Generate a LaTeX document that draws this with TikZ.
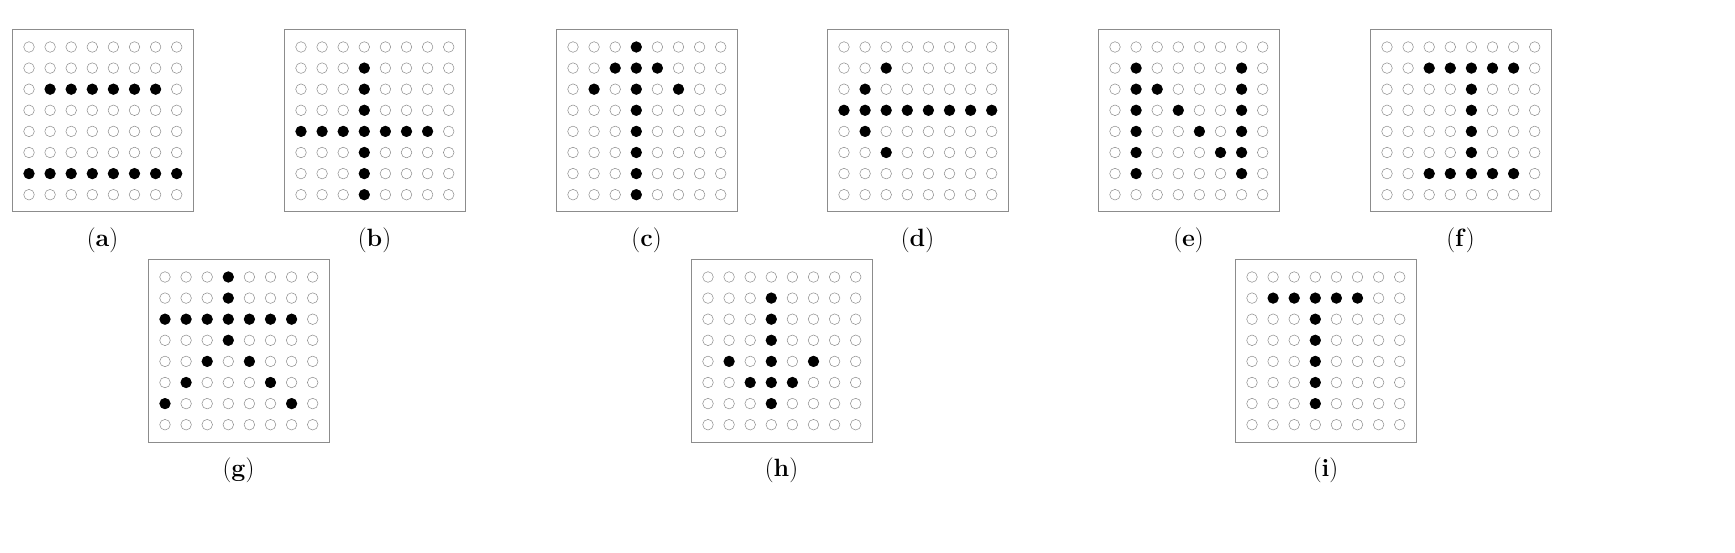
\documentclass[tikz,border=0pt]{standalone}
\tikzset{
  panelbox/.style={draw=black!45,line width=1pt},
  opendot/.style={draw=black!45,line width=0.5pt,fill=white},
  fulldot/.style={fill=black},
  captext/.style={font=\fontsize{25}{30}\selectfont}
}
\newcommand{\dotpanel}[4]{% x, y, label, filled list c/r
  \draw[panelbox] (#1,#2) rectangle ++(181,182);%
  \foreach \c in {0,...,7}{\foreach \r in {0,...,7}{%
    \draw[opendot] (#1+17+21.1*\c,#2+17+21.1*\r) circle (5.3);}}%
  \foreach \c/\r in {#4}{\fill[fulldot] (#1+17+21.1*\c,#2+17+21.1*\r) circle (5.6);}%
  \node[captext] (lab#3) at (#1+90.5,#2+210) {(\textbf{#3})};%
}
\begin{document}
\begin{tikzpicture}[x=1pt,y=-1pt]
\useasboundingbox (0,0) rectangle (1735,553);
\dotpanel{12}{30}{a}{1/2,2/2,3/2,4/2,5/2,6/2,0/6,1/6,2/6,3/6,4/6,5/6,6/6,7/6}
\dotpanel{284}{30}{b}{3/1,3/2,3/3,3/5,3/6,3/7,0/4,1/4,2/4,3/4,4/4,5/4,6/4}
\dotpanel{556}{30}{c}{3/0,3/1,3/2,3/3,3/4,3/5,3/6,3/7,2/1,4/1,1/2,5/2}
\dotpanel{827}{30}{d}{2/1,1/2,0/3,1/3,2/3,3/3,4/3,5/3,6/3,7/3,1/4,2/5}
\dotpanel{1098}{30}{e}{1/1,1/2,1/3,1/4,1/5,1/6,6/1,6/2,6/3,6/4,6/5,6/6,2/2,3/3,4/4,5/5}
\dotpanel{1370}{30}{f}{2/1,3/1,4/1,5/1,6/1,4/2,4/3,4/4,4/5,2/6,3/6,4/6,5/6,6/6}
\dotpanel{148}{260}{g}{3/0,3/1,3/3,0/2,1/2,2/2,3/2,4/2,5/2,6/2,2/4,4/4,1/5,5/5,0/6,6/6}
\dotpanel{691}{260}{h}{3/1,3/2,3/3,3/4,3/5,3/6,1/4,5/4,2/5,4/5}
\dotpanel{1235}{260}{i}{1/1,2/1,3/1,4/1,5/1,3/2,3/3,3/4,3/5,3/6}
\end{tikzpicture}
\end{document}
